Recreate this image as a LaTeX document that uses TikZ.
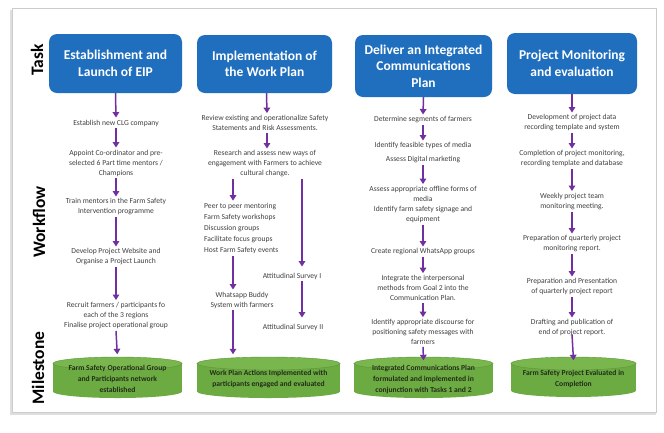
\documentclass[tikz,border=0pt]{standalone}
\usepackage{fontspec}
\setmainfont{Carlito}
\usetikzlibrary{arrows.meta}
\definecolor{taskblue}{RGB}{31,111,190}
\definecolor{arrpurple}{RGB}{112,48,160}
\definecolor{bodygray}{RGB}{64,64,64}
\definecolor{msgreen}{RGB}{108,170,66}
\definecolor{mstop}{RGB}{122,182,78}
\definecolor{msedge}{RGB}{90,150,55}
\definecolor{mstext}{RGB}{35,45,25}
\newcommand\mscyl[6]{%
  \fill[msgreen] (#2,#4+6.5) rectangle (#3,#5-6.5);
  \fill[msgreen] ({(#2+#3)/2},#5-6.5) ellipse [x radius={(#3-#2)/2}, y radius=6.5];
  \filldraw[fill=mstop, draw=msedge, line width=0.4pt] ({(#2+#3)/2},#4+6.5) ellipse [x radius={(#3-#2)/2}, y radius=6.5];
  \node[mstxt, minimum width={(#3-#2)*1pt}, minimum height={(#5-#4)*1pt}] (#1) at ({(#2+#3)/2},{(#4+#5)/2+1.5}) {#6};
}
\begin{document}
\begin{tikzpicture}[x=1pt,y=-1pt,
  taskbox/.style={fill=taskblue, rounded corners=8pt, text=white,
    font=\fontsize{13.5}{16.5}\selectfont\bfseries, align=center, inner sep=0pt},
  txt/.style={text=bodygray, font=\fontsize{7.6}{10}\selectfont, align=center, inner sep=2pt},
  arr/.style={draw=arrpurple, line width=1.5pt, -{Triangle[width=6.5pt,length=5.5pt]}},
  mstxt/.style={font=\fontsize{7.6}{11}\selectfont\bfseries, text=mstext, align=center, inner sep=0pt},
  side/.style={rotate=90, font=\fontsize{17.5}{17.5}\selectfont\bfseries, text=black}]
\useasboundingbox (0,0) rectangle (664,432);
\fill[white] (0,0) rectangle (664,432);
\fill[gray!25] (10,10) rectangle (656,415);
\filldraw[fill=white, draw=gray!40, line width=0.6pt] (12,8) rectangle (656,412);

% side labels
\node[side] (ltask) at (37,60) {Task};
\node[side] (lwork) at (39,222) {Workflow};
\node[side] (lmile) at (38,368) {Milestone};

% task boxes
\node[taskbox, minimum width=133pt, minimum height=59pt] (t1) at (115.5,63.5) {Establishment and\\Launch of EIP};
\node[taskbox, minimum width=135pt, minimum height=58pt] (t2) at (264.5,64) {Implementation of\\the Work Plan};
\node[taskbox, minimum width=137pt, minimum height=62pt] (t3) at (423.5,66) {Deliver an Integrated\\Communications\\Plan};
\node[taskbox, minimum width=130pt, minimum height=61pt] (t4) at (572,63.5) {Project Monitoring\\and evaluation};

% column 1
\node[txt] (a1) at (116,123) {Establish new CLG company};
\node[txt] (a2) at (116,163) {Appoint Co-ordinator and pre-\\selected 6 Part time mentors /\\Champions};
\node[txt] (a3) at (116,207) {Train mentors in the Farm Safety\\Intervention programme};
\node[txt] (a4) at (116,257) {Develop Project Website and\\Organise a Project Launch};
\node[txt] (a5) at (116,315.5) {Recruit farmers / participants fo\\each of the 3 regions\\Finalise project operational group};
\mscyl{m1}{53}{182}{357}{398}{Farm Safety Operational Group\\and Participants network\\established}
\draw[arr] (t1.south) -- (a1.north);
\draw[arr] (a1.south) -- (a2.north);
\draw[arr] (a2.south) -- (a3.north);
\draw[arr] (a3.south) -- (a4.north);
\draw[arr] (a4.south) -- (a5.north);
\draw[arr, shorten >=4pt] (a5.south) -- (m1.north);

% column 2
\coordinate (cl) at (233,0);
\coordinate (cr) at (302,0);
\node[txt] (b1) at (265,123) {Review existing and operationalize Safety\\Statements and Risk Assessments.};
\node[txt] (b2) at (265,164) {Research and assess new ways of\\engagement with Farmers to achieve\\cultural change.};
\node[txt, align=left, anchor=west, font=\fontsize{7.6}{11.2}\selectfont] (b3) at (202,228.5) {Peer to peer mentoring\\Farm Safety workshops\\Discussion groups\\Facilitate focus groups\\Host Farm Safety events};
\node[txt] (b4) at (292,276) {Attitudinal Survey I};
\node[txt] (b5) at (242,300) {Whatsapp Buddy\\System with farmers};
\node[txt] (b6) at (293,327) {Attitudinal Survey II};
\mscyl{m2}{197}{340}{357}{398}{Work Plan Actions Implemented with\\participants engaged and evaluated}
\draw[arr] ([xshift=2pt]t2.south) -- ([xshift=2pt]b1.north);
\draw[arr] ([xshift=2pt]b1.south) -- ([xshift=2pt]b2.north);
\draw[arr] (b2.south -| cl) -- (b3.north -| cl);
\draw[arr, shorten >=4pt] (b2.south -| cr) -- (b4.north -| cr);
\draw[arr] (b3.south -| cl) -- (b5.north -| cl);
\draw[arr, shorten >=4pt] (b4.south -| cr) -- (b6.north -| cr);
\draw[arr, shorten >=4pt] (b5.south -| cl) -- (m2.north -| cl);

% column 3
\node[txt] (c1) at (423,120) {Determine segments of farmers};
\node[txt, font=\fontsize{7.6}{14}\selectfont] (c2) at (423,153) {Identify feasible types of media\\Assess Digital marketing};
\node[txt] (c3) at (423,204.5) {Assess appropriate offline forms of\\media\\Identify farm safety signage and\\equipment};
\node[txt] (c4) at (423,252) {Create regional WhatsApp groups};
\node[txt] (c5) at (423,288) {Integrate the interpersonal\\methods from Goal 2 into the\\Communication Plan.};
\node[txt] (c6) at (423,332) {Identify appropriate discourse for\\positioning safety messages with\\farmers};
\mscyl{m3}{354}{493}{357}{398}{Integrated Communications Plan\\formulated and implemented in\\conjunction with Tasks 1 and 2}
\draw[arr] (t3.south) -- (c1.north);
\draw[arr] (c1.south) -- (c2.north);
\draw[arr] (c2.south) -- (c3.north);
\draw[arr] (c3.south) -- (c4.north);
\draw[arr] (c4.south) -- (c5.north);
\draw[arr] (c5.south) -- (c6.north);
\draw[arr] (c6.south) -- ([yshift=-2pt]m3.north);

% column 4
\node[txt] (d1) at (572,123) {Development of project data\\recording template and system};
\node[txt] (d2) at (572,159) {Completion of project monitoring,\\recording template and database};
\node[txt] (d3) at (572,201.5) {Weekly project team\\monitoring meeting.};
\node[txt] (d4) at (572,244) {Preparation of quarterly project\\monitoring report.};
\node[txt] (d5) at (572,287) {Preparation and Presentation\\of quarterly project report};
\node[txt] (d6) at (572,328) {Drafting and publication of\\end of project report.};
\mscyl{m4}{511}{636}{357}{397}{Farm Safety Project Evaluated in\\Completion}
\draw[arr] (t4.south) -- (d1.north);
\draw[arr] (d1.south) -- (d2.north);
\draw[arr] (d2.south) -- (d3.north);
\draw[arr] (d3.south) -- (d4.north);
\draw[arr] (d4.south) -- (d5.north);
\draw[arr] (d5.south) -- (d6.north);
\draw[arr] ([yshift=4pt]d6.south) -- ([yshift=-2pt]m4.north);
\end{tikzpicture}
\end{document}
